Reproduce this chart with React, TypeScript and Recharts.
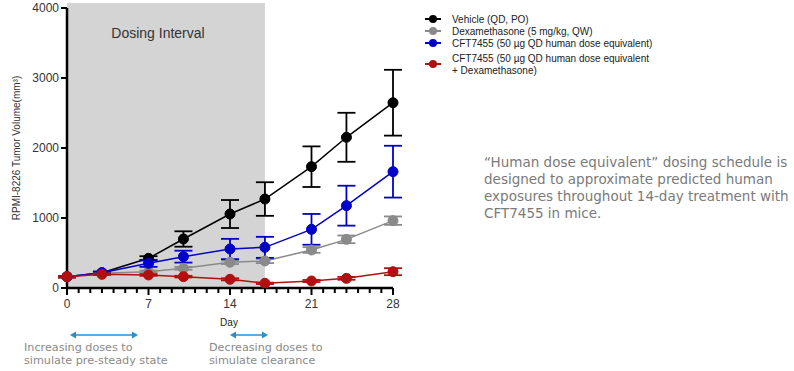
import React from 'react';
import { LineChart, Line, XAxis, YAxis, ErrorBar, ReferenceArea, Label } from 'recharts';

const days = [0, 3, 7, 10, 14, 17, 21, 24, 28];
const vehicle = [162, 219, 424, 700, 1057, 1271, 1733, 2153, 2647];
const vehicleErr = [10, 15, 30, 110, 200, 240, 290, 350, 470];
const dexa = [162, 210, 233, 281, 367, 386, 543, 695, 962];
const dexaErr = [10, 10, 15, 20, 25, 30, 40, 55, 60];
const cft = [162, 219, 352, 448, 557, 581, 838, 1176, 1662];
const cftErr = [10, 15, 50, 85, 145, 150, 220, 285, 370];
const combo = [162, 195, 186, 162, 124, 67, 100, 138, 233];
const comboErr = [10, 10, 12, 12, 15, 10, 15, 20, 50];

const xTicks = [0, 1, 2, 3, 4, 5, 6, 7, 8, 9, 10, 11, 12, 13, 14, 15, 16, 17, 18, 19, 20, 21, 22, 23, 24, 25, 26, 27, 28];
const yTicks = [0, 1000, 2000, 3000, 4000];

const seriesNames = [
  'Vehicle (QD, PO)',
  'Dexamethasone (5 mg/kg, QW)',
  'CFT7455 (50 µg QD human dose equivalent)',
  'CFT7455 (50 µg QD human dose equivalent\n+ Dexamethasone)',
];
const colors = ['#000000', '#8a8a8a', '#0000c8', '#b01010'];

const data = days.map((d, i) => ({
  day: d,
  vehicle: vehicle[i],
  vehicleErr: vehicleErr[i],
  dexa: dexa[i],
  dexaErr: dexaErr[i],
  cft: cft[i],
  cftErr: cftErr[i],
  combo: combo[i],
  comboErr: comboErr[i],
}));

const font = "'Liberation Sans', Arial, sans-serif";
const noteFont = "'DejaVu Sans', sans-serif";

const XTick = (props: any) => {
  const { x, y, payload } = props;
  const major = payload.value % 7 === 0;
  return (
    <g>
      <line x1={x} x2={x} y1={y} y2={y + (major ? 7 : 5)} stroke="#000" strokeWidth={2} />
      {major && (
        <text x={x} y={y + 20} textAnchor="middle" fontSize={12} fill="#333" fontFamily={font}>
          {payload.value}
        </text>
      )}
    </g>
  );
};

const series = [
  { key: 'vehicle', err: 'vehicleErr' },
  { key: 'dexa', err: 'dexaErr' },
  { key: 'cft', err: 'cftErr' },
  { key: 'combo', err: 'comboErr' },
];

const Arrow = ({ x1, x2, y }: { x1: number; x2: number; y: number }) => (
  <g stroke="#2a8fd0" fill="#2a8fd0">
    <line x1={x1 + 4} x2={x2 - 4} y1={y} y2={y} strokeWidth={1.5} />
    <polygon points={`${x1},${y} ${x1 + 6},${y - 3.5} ${x1 + 6},${y + 3.5}`} stroke="none" />
    <polygon points={`${x2},${y} ${x2 - 6},${y - 3.5} ${x2 - 6},${y + 3.5}`} stroke="none" />
  </g>
);

export default function App() {
  const legendRows = [19, 31, 43, 64];
  return (
    <div style={{ position: 'absolute', left: 0, top: 0, width: 794, height: 371, background: '#fff' }}>
      <LineChart width={794} height={371} data={data} margin={{ top: 8, right: 401, bottom: 53, left: 7 }}>
        <ReferenceArea x1={0} x2={17} y1={0} y2={4070} fill="#d4d4d4" fillOpacity={1} stroke="none" ifOverflow="visible" />
        <XAxis
          dataKey="day"
          type="number"
          domain={[0, 28]}
          ticks={xTicks}
          interval={0}
          tick={<XTick />}
          tickLine={false}
          tickSize={0}
          tickMargin={0}
          height={30}
          axisLine={{ stroke: '#000', strokeWidth: 2.5 }}
        />
        <YAxis
          domain={[0, 4000]}
          ticks={yTicks}
          width={60}
          tick={{ fontSize: 12, fill: '#333', fontFamily: font }}
          tickSize={6}
          tickLine={{ stroke: '#000', strokeWidth: 2 }}
          axisLine={{ stroke: '#000', strokeWidth: 2.5 }}
        >
          <Label
            angle={-90}
            position="insideLeft"
            offset={9}
            fontSize={10}
            fill="#333"
            fontFamily={font}
            value="RPMI-8226 Tumor Volume(mm³)"
            style={{ textAnchor: 'middle' }}
          />
        </YAxis>
        {series.map((s, i) => (
          <Line
            key={s.key}
            dataKey={s.key}
            stroke={colors[i]}
            strokeWidth={1.5}
            dot={{ r: 5, fill: colors[i], stroke: colors[i], strokeWidth: 1 }}
            isAnimationActive={false}
          >
            <ErrorBar dataKey={s.err} width={9} stroke={colors[i]} strokeWidth={1.8} direction="y" />
          </Line>
        ))}
      </LineChart>
      <svg width={794} height={371} style={{ position: 'absolute', left: 0, top: 0, pointerEvents: 'none' }}>
        <text x={158} y={38} textAnchor="middle" fontSize={14} fill="#333" fontFamily={font}>Dosing Interval</text>
        <text x={229} y={326} textAnchor="middle" fontSize={10} fill="#222" fontFamily={font}>Day</text>
        {seriesNames.map((name, i) => (
          <g key={i}>
            <line x1={425} x2={441} y1={legendRows[i]} y2={legendRows[i]} stroke={colors[i]} strokeWidth={2} />
            <circle cx={433} cy={legendRows[i]} r={4} fill={colors[i]} />
            {name.split('\n').map((ln, j, arr) => (
              <text
                key={j}
                x={452}
                y={legendRows[i] + 3.5 + (j - (arr.length - 1) / 2) * 12}
                fontSize={10}
                fill="#222"
                fontFamily={font}
              >
                {ln}
              </text>
            ))}
          </g>
        ))}
        <Arrow x1={70} x2={138} y={335} />
        <Arrow x1={230} x2={268} y={335} />
        <g fontFamily={noteFont} fontSize={11.2} fill="#8a8a8a">
          <text x={24} y={351}>Increasing doses to</text>
          <text x={24} y={364}>simulate pre-steady state</text>
          <text x={209} y={351}>Decreasing doses to</text>
          <text x={209} y={364}>simulate clearance</text>
        </g>
        <g fontFamily={noteFont} fontSize={13.5} fill="#7a7a7a">
          <text x={484} y={167}>“Human dose equivalent” dosing schedule is</text>
          <text x={484} y={184}>designed to approximate predicted human</text>
          <text x={484} y={201}>exposures throughout 14-day treatment with</text>
          <text x={484} y={218}>CFT7455 in mice.</text>
        </g>
      </svg>
    </div>
  );
}
